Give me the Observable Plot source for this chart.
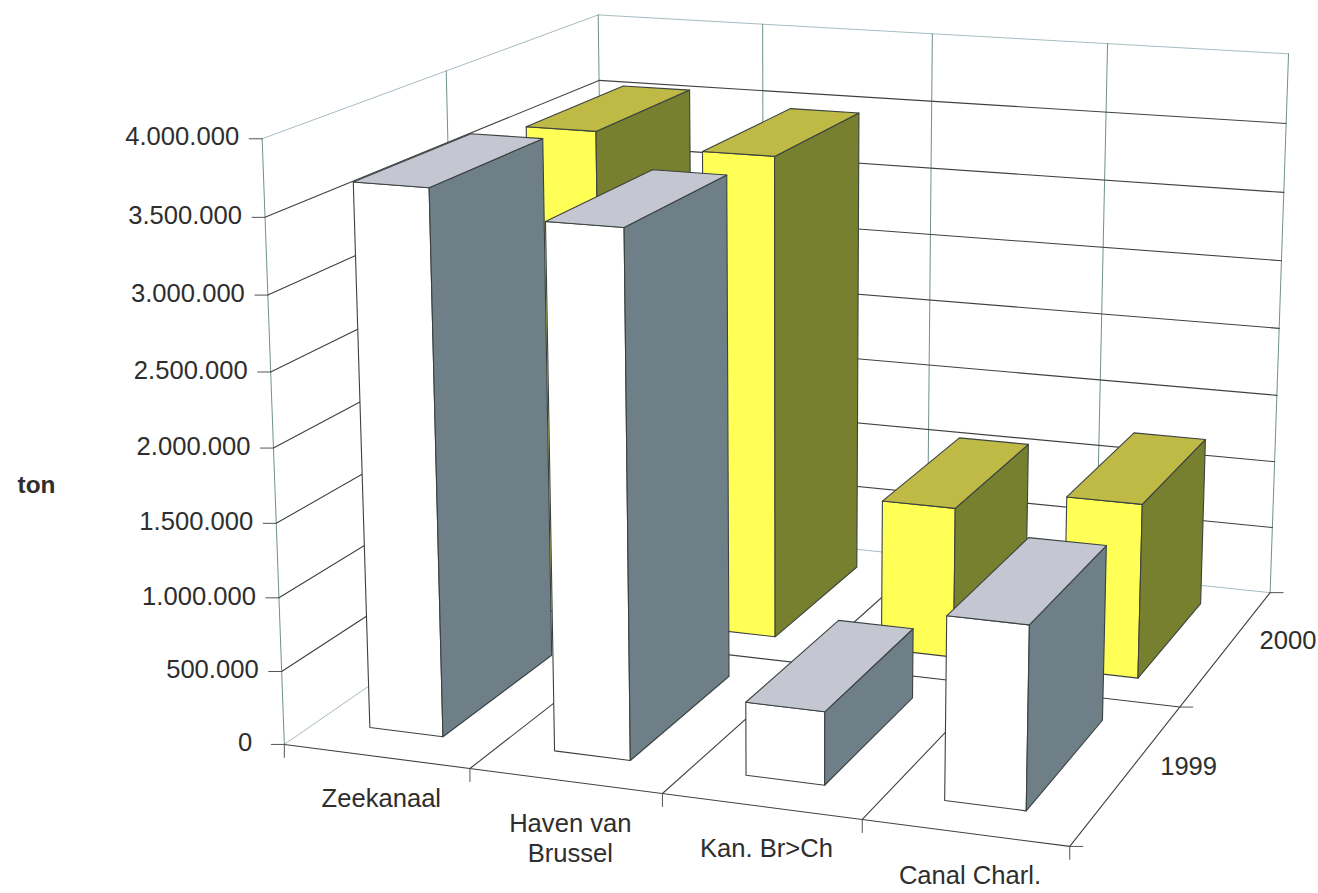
<!DOCTYPE html>
<html>
<head>
<meta charset="utf-8">
<style>
  html, body { margin: 0; padding: 0; background: #fff; }
  svg { display: block; }
</style>
<script src="https://cdn.jsdelivr.net/npm/d3@7"></script>
<script src="https://cdn.jsdelivr.net/npm/@observablehq/plot@0.6"></script>
</head>
<body>
<div id="chart"></div>
<script>
// Goods carried per waterway, in tons
const categories = ["Zeekanaal", "Haven van\nBrussel", "Kan. Br>Ch", "Canal Charl."];
const years = ["1999", "2000"];
const tons1999 = [3660000, 3500000, 490000, 1210000];
const tons2000 = [3550000, 3460000, 1080000, 1240000];
const valueTicks = [0, 500000, 1000000, 1500000, 2000000, 2500000, 3000000, 3500000, 4000000];
const valueLabels = ["0", "500.000", "1.000.000", "1.500.000", "2.000.000", "2.500.000", "3.000.000", "3.500.000", "4.000.000"];
const maxValue = 4000000;

// Camera calibration: box coordinates (across, depth, height, each 0..1) and where they land on the page
const cameraAnchors = [
  [0, 0, 0, 284, 741], [1, 0, 0, 1070, 849], [1, 1, 0, 1269.4, 589], [0, 1, 0, 605, 530],
  [0, 0, 1, 261.8, 138.3], [0, 1, 1, 598.5, 12.7], [1, 1, 1, 1289, 55.7],
  [.25, 0, 0, 469.3, 766.7], [.5, 0, 0, 660, 793], [.75, 0, 0, 862, 821], [1, .5, 0, 1180, 707],
  [.25, 1, 1, 761, 23], [.5, 1, 1, 930.6, 33], [.75, 1, 1, 1106, 43], [0, .5, 1, 446, 70],
  // left edge of the side wall
  [0, 0, .875, 264.6, 217.5], [0, 0, .75, 267.4, 295], [0, 0, .625, 270.2, 373], [0, 0, .5, 273, 447],
  [0, 0, .375, 275.8, 522.7], [0, 0, .25, 278.5, 597], [0, 0, .125, 281.2, 669],
  // right edge of the back wall
  [1, 1, .875, 1286.5, 124], [1, 1, .75, 1283.5, 192.7], [1, 1, .625, 1281, 261.7], [1, 1, .5, 1278.7, 329],
  [1, 1, .375, 1276.4, 394], [1, 1, .25, 1273.8, 458], [1, 1, .125, 1271.5, 524],
  // back corner
  [0, 1, .875, 599, 78.3]
];

// Share of each slot taken by a bar
const barSpan = [0.285, 0.685];
const depthSpan = [0.18, 0.84];

// Least-squares fit of the 3D projective map
function fitCamera(anchors) {
  const n = 11;
  const A = Array.from({length: n}, () => new Array(n + 1).fill(0));
  const add = (row, rhs) => {
    for (let i = 0; i < n; i++) {
      for (let j = 0; j < n; j++) A[i][j] += row[i] * row[j];
      A[i][n] += row[i] * rhs;
    }
  };
  for (const [u, v, w, px, py] of anchors) {
    add([1, u, v, w, 0, 0, 0, 0, -px * u, -px * v, -px * w], px);
    add([0, 0, 0, 0, 1, u, v, w, -py * u, -py * v, -py * w], py);
  }
  for (let c = 0; c < n; c++) {
    let p = c;
    for (let r = c + 1; r < n; r++) if (Math.abs(A[r][c]) > Math.abs(A[p][c])) p = r;
    [A[c], A[p]] = [A[p], A[c]];
    for (let r = 0; r < n; r++) {
      if (r === c) continue;
      const f = A[r][c] / A[c][c];
      for (let k = c; k <= n; k++) A[r][k] -= f * A[c][k];
    }
  }
  const m = A.map((row, i) => row[n] / row[i]);
  return (u, v, w) => {
    const d = 1 + m[8] * u + m[9] * v + m[10] * w;
    return [(m[0] + m[1] * u + m[2] * v + m[3] * w) / d, (m[4] + m[5] * u + m[6] * v + m[7] * w) / d];
  };
}
const project = fitCamera(cameraAnchors);
const at = (u, v, value) => project(u, v, value / maxValue);

// Wall and floor lines, collected by colour group
const gridDark = [], gridLight = [], gridPost = [];
let lineId = 0;
const pushLine = (list, a, b) => {
  const id = lineId++;
  list.push({id, x: a[0], y: a[1]}, {id, x: b[0], y: b[1]});
};

for (const t of valueTicks) {
  const list = t === 0 || t === maxValue ? gridLight : gridDark;
  pushLine(list, at(0, 0, t), at(0, 1, t));
  pushLine(list, at(0, 1, t), at(1, 1, t));
}
for (const u of [0, .25, .5, .75, 1]) pushLine(gridPost, at(u, 1, 0), at(u, 1, maxValue));
for (const v of [0, .5]) pushLine(gridPost, at(0, v, 0), at(0, v, maxValue));
for (const u of [.25, .5, .75, 1]) pushLine(gridDark, at(u, 0, 0), at(u, 1, 0));
for (const v of [0, .5]) pushLine(gridDark, at(0, v, 0), at(1, v, 0));

// Short tick marks outside the box
const tickRows = [];
const pushTick = (p, dx, dy) => pushLine(tickRows, p, [p[0] + dx, p[1] + dy]);
for (const t of valueTicks) pushTick(at(0, 0, t), -13, 0);
for (let i = 0; i <= 4; i++) pushTick(at(i / 4, 0, 0), 0, 13);
for (let j = 0; j <= 2; j++) pushTick(at(1, j / 2, 0), 13, 0);

// Bars: front, top and right side of each box, far row first
const palettes = [
  {front: "#ffffff", top: "#c4c7d1", side: "#6f7f88"},
  {front: "#ffff55", top: "#bfba45", side: "#76802f"}
];
const faces = [];
let faceId = 0;
const pushFace = (fill, corners) => {
  const id = faceId++;
  for (const [x, y] of corners) faces.push({id, x, y, fill});
};
[tons2000, tons1999].forEach((series, k) => {
  const row = 1 - k;
  series.forEach((value, i) => {
    const u0 = (i + barSpan[0]) / 4, u1 = (i + barSpan[1]) / 4;
    const v0 = (row + depthSpan[0]) / 2, v1 = (row + depthSpan[1]) / 2;
    const pal = palettes[row];
    pushFace(pal.front, [at(u0, v0, 0), at(u1, v0, 0), at(u1, v0, value), at(u0, v0, value)]);
    pushFace(pal.side, [at(u1, v0, 0), at(u1, v1, 0), at(u1, v1, value), at(u1, v0, value)]);
    pushFace(pal.top, [at(u0, v0, value), at(u1, v0, value), at(u1, v1, value), at(u0, v1, value)]);
  });
});

// Text placed relative to the projected axes
const valueText = valueTicks.map((t, i) => {
  const [x, y] = at(0, 0, t);
  return {x: x - (t === 0 ? 32 : 23), y: y - 1.5, label: valueLabels[i]};
});
const categoryText = categories.map((label, i) => {
  const [x, y] = at((i + .5) / 4, 0, 0);
  return {x: x + 5, y: y + 29, label};
});
const yearText = years.map((label, j) => {
  const [x, y] = at(1, (j + .5) / 2, 0);
  return {x: x + 61, y: y - 6, label};
});

const textColor = "#2e2e2e";
const fontFamily = "Liberation Sans, Arial, sans-serif";

const chart = Plot.plot({
  width: 1318,
  height: 893,
  margin: 0,
  style: {background: "#ffffff"},
  x: {domain: [0, 1318], range: [0, 1318], axis: null},
  y: {domain: [0, 893], range: [0, 893], axis: null},
  color: {type: "identity"},
  marks: [
    Plot.line(gridLight, {x: "x", y: "y", z: "id", stroke: "#a7bcc2", strokeWidth: 1}),
    Plot.line(gridPost, {x: "x", y: "y", z: "id", stroke: "#5f8580", strokeWidth: 0.9}),
    Plot.line(gridDark, {x: "x", y: "y", z: "id", stroke: "#404040", strokeWidth: 1.1}),
    Plot.line(tickRows, {x: "x", y: "y", z: "id", stroke: "#555555", strokeWidth: 1}),
    Plot.line(faces, {x: "x", y: "y", z: "id", fill: "fill", stroke: "#3a4240", strokeWidth: 1.1, curve: "linear-closed"}),
    Plot.text(valueText, {x: "x", y: "y", text: "label", textAnchor: "end", fontSize: 25.6, fontFamily, fill: textColor}),
    Plot.text(categoryText, {x: "x", y: "y", text: "label", lineAnchor: "top", lineHeight: 1.2, fontSize: 25.6, fontFamily, fill: textColor}),
    Plot.text(yearText, {x: "x", y: "y", text: "label", fontSize: 25.6, fontFamily, fill: textColor}),
    Plot.text(["ton"], {x: [36], y: [485], text: d => d, fontSize: 24.4, fontWeight: "bold", fontFamily, fill: textColor})
  ]
});
document.getElementById("chart").append(chart);
</script>
</body>
</html>
